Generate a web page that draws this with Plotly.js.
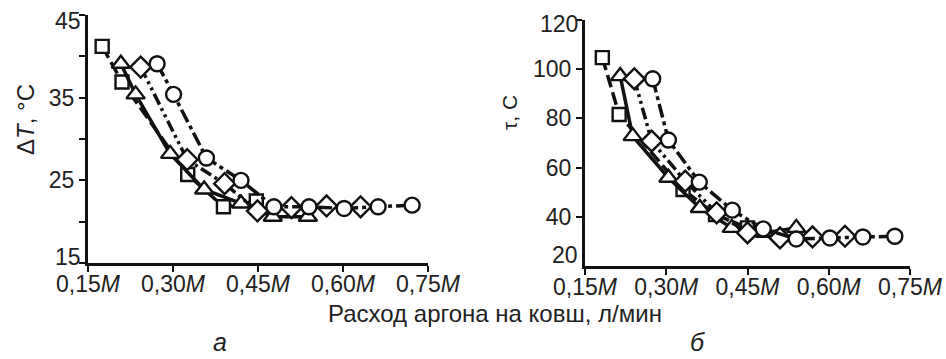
<!DOCTYPE html>
<html>
<head>
<meta charset="utf-8">
<script src="https://cdn.plot.ly/plotly-3.0.1.min.js"></script>
<style>html,body{margin:0;padding:0;background:#fff;}#chart{width:946px;height:359px;}</style>
</head>
<body>
<div id="chart"></div>
<script>
// x values are in units of M (ladle mass), argon flow, л/мин
// Panel а: ΔT, °C
const aSquareX = [0.175, 0.21, 0.326, 0.389, 0.447];
const aSquareY = [41.2, 36.9, 25.7, 21.8, 22.5];
const aTriangleX = [0.208, 0.234, 0.295, 0.355, 0.42, 0.476, 0.538];
const aTriangleY = [39.1, 35.4, 28.2, 23.9, 22.2, 20.6, 20.6];
const aDiamondX = [0.243, 0.325, 0.391, 0.449, 0.509, 0.571, 0.631];
const aDiamondY = [38.7, 27.5, 24.6, 21.3, 21.7, 21.9, 21.8];
const aCircleX = [0.272, 0.301, 0.359, 0.42, 0.478, 0.54, 0.602, 0.662, 0.722];
const aCircleY = [39.1, 35.4, 27.7, 25.0, 21.8, 21.8, 21.6, 21.8, 22.0];

// Panel б: τ, с
const bSquareX = [0.182, 0.213, 0.331, 0.391, 0.45];
const bSquareY = [104.7, 81.6, 51.1, 40.9, 35.5];
const bTriangleX = [0.215, 0.238, 0.304, 0.362, 0.421, 0.482, 0.54];
const bTriangleY = [97.2, 72.8, 55.9, 43.6, 35.5, 33.5, 35.5];
const bDiamondX = [0.241, 0.273, 0.335, 0.393, 0.45, 0.51, 0.57, 0.63];
const bDiamondY = [96.1, 70.8, 54.5, 41.6, 33.5, 31.4, 31.8, 32.1];
const bCircleX = [0.275, 0.304, 0.361, 0.422, 0.479, 0.54, 0.602, 0.663, 0.722];
const bCircleY = [96.1, 71.2, 54.1, 42.7, 35.1, 31.0, 31.4, 31.8, 32.1];

const xTickVals = [0.15, 0.30, 0.45, 0.60, 0.75];
const xTickText = ['0,15<i>M</i>', '0,30<i>M</i>', '0,45<i>M</i>', '0,60<i>M</i>', '0,75<i>M</i>'];
const aYTickVals = [15, 20, 25, 30, 35, 40, 45];
const aYTickText = ['', '', '25', '', '35', '', ''];
const aEdgeLabels = ['15', '45'];
const bYTickVals = [40, 60, 80, 100, 120];
const bYTickText = ['40', '60', '80', '100', ''];
const bEdgeLabels = ['20', '120'];

const FONT = 'Liberation Sans, Arial, sans-serif';
const TXT = '#222';
const styles = {
  square:   {symbol: 'square', size: 13, dash: '13px,5px'},
  triangle: {symbol: 'triangle-up', size: 16, dash: 'solid'},
  diamond:  {symbol: 'diamond', size: 16, dash: '12px,4px,3px,4px,3px,4px'},
  circle:   {symbol: 'circle', size: 15, dash: '14px,4px,4px,4px'}
};

function tr(x, y, st, xa, ya) {
  const s = styles[st];
  return {
    x: x, y: y, xaxis: xa, yaxis: ya, type: 'scatter', mode: 'lines+markers',
    line: {color: '#111', width: 3.5, dash: s.dash},
    marker: {symbol: s.symbol, size: s.size, color: '#fff', line: {color: '#111', width: 2.4}},
    showlegend: false, hoverinfo: 'skip', cliponaxis: false
  };
}

const data = [
  tr(aSquareX, aSquareY, 'square', 'x', 'y'),
  tr(aTriangleX, aTriangleY, 'triangle', 'x', 'y'),
  tr(aDiamondX, aDiamondY, 'diamond', 'x', 'y'),
  tr(aCircleX, aCircleY, 'circle', 'x', 'y'),
  tr(bSquareX, bSquareY, 'square', 'x2', 'y2'),
  tr(bTriangleX, bTriangleY, 'triangle', 'x2', 'y2'),
  tr(bDiamondX, bDiamondY, 'diamond', 'x2', 'y2'),
  tr(bCircleX, bCircleY, 'circle', 'x2', 'y2')
];

const W = 946, H = 359;
const px = v => v / W, py = v => (H - v) / H;

const axCommon = {
  showline: true, linecolor: '#111', linewidth: 3, showgrid: false, zeroline: false,
  ticks: 'outside', ticklen: 6, tickwidth: 2, tickcolor: '#111',
  tickfont: {family: FONT, size: 23, color: TXT}, fixedrange: true
};

function ann(text, x, y, size, extra) {
  return Object.assign({text: text, xref: 'paper', yref: 'paper', x: px(x), y: py(y),
    xanchor: 'center', yanchor: 'middle', showarrow: false,
    font: {family: FONT, size: size, color: TXT}}, extra || {});
}

const layout = {
  width: W, height: H,
  margin: {l: 0, r: 0, t: 0, b: 0},
  paper_bgcolor: '#fff', plot_bgcolor: '#fff',
  font: {family: FONT, color: TXT},
  xaxis: Object.assign({}, axCommon, {domain: [px(88), px(428)], range: [0.15, 0.75], tickvals: xTickVals, ticktext: xTickText, anchor: 'y', ticklabelstandoff: -8}),
  yaxis: Object.assign({}, axCommon, {domain: [py(263), py(15)], range: [15, 45], tickvals: aYTickVals, ticktext: aYTickText, anchor: 'x', ticklabelstandoff: 0}),
  xaxis2: Object.assign({}, axCommon, {domain: [px(585), px(910)], range: [0.15, 0.75], tickvals: xTickVals, ticktext: xTickText, anchor: 'y2', ticklabelstandoff: -8}),
  yaxis2: Object.assign({}, axCommon, {domain: [py(266), py(20)], range: [20, 120], tickvals: bYTickVals, ticktext: bYTickText, anchor: 'x2', ticklabelstandoff: 0}),
  annotations: [
    ann('Δ<i>T</i>, °C', 26, 120, 24, {textangle: -90}),
    ann('τ, С', 509, 113, 21, {textangle: -90}),
    ann(aEdgeLabels[0], 83, 257, 23, {xanchor: 'right'}),
    ann(aEdgeLabels[1], 83, 21, 23, {xanchor: 'right'}),
    ann(bEdgeLabels[0], 580, 255, 23, {xanchor: 'right'}),
    ann(bEdgeLabels[1], 580, 24, 23, {xanchor: 'right'}),
    ann('Расход аргона на ковш, л/мин', 495, 313, 24),
    ann('<i>а</i>', 220, 342, 25),
    ann('<i>б</i>', 697, 342, 25)
  ]
};

Plotly.newPlot('chart', data, layout, {staticPlot: true, displayModeBar: false});
</script>
</body>
</html>
